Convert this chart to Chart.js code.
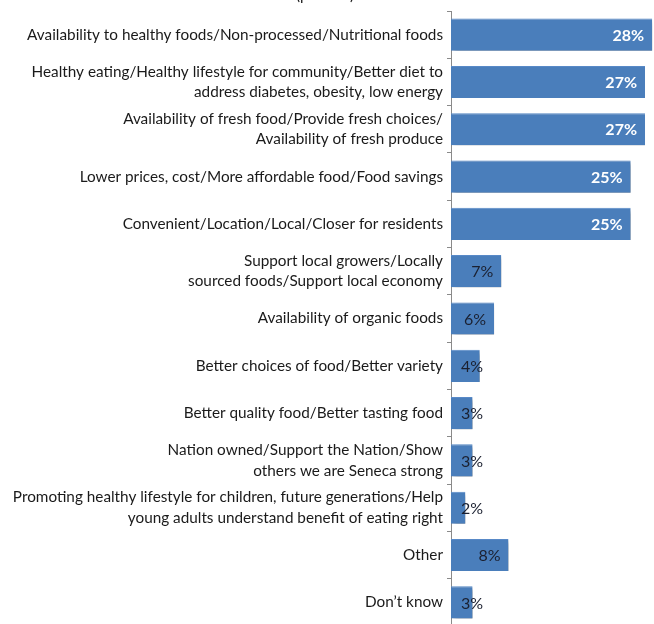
<!DOCTYPE html>
<html>
<head>
<meta charset="utf-8">
<script src="https://cdn.jsdelivr.net/npm/chart.js@4.4.1/dist/chart.umd.min.js"></script>
<style>
  html, body { margin: 0; padding: 0; background: #ffffff; overflow: hidden; }
  #wrap { position: relative; width: 654px; height: 626px; }
</style>
</head>
<body>
<div id="wrap"><canvas id="chart"></canvas></div>
<script>
// Reasons given for wanting the store (share of respondents, %)
const categories = [
  "Availability to healthy foods/Non-processed/Nutritional foods",
  ["Healthy eating/Healthy lifestyle for community/Better diet to", "address diabetes, obesity, low energy"],
  ["Availability of fresh food/Provide fresh choices/", "Availability of fresh produce"],
  "Lower prices, cost/More affordable food/Food savings",
  "Convenient/Location/Local/Closer for residents",
  ["Support local growers/Locally", "sourced foods/Support local economy"],
  "Availability of organic foods",
  "Better choices of food/Better variety",
  "Better quality food/Better tasting food",
  ["Nation owned/Support the Nation/Show", "others we are Seneca strong"],
  ["Promoting healthy lifestyle for children, future generations/Help", "young adults understand benefit of eating right"],
  "Other",
  "Don\u2019t know"
];
const values = [28, 27, 27, 25, 25, 7, 6, 4, 3, 3, 2, 8, 3];
const subtitle = "(percent)";

const FONT = "Lato, 'Open Sans', sans-serif";
const BAR_BLUE = "#4a7ebb";

// soft drop shadow under the bars
const barShadow = {
  id: "barShadow",
  beforeDatasetsDraw(chart) {
    const ctx = chart.ctx;
    ctx.save();
    ctx.shadowColor = "rgba(0,0,0,0.38)";
    ctx.shadowBlur = 4;
    ctx.shadowOffsetX = 3;
    ctx.shadowOffsetY = 3;
  },
  afterDatasetsDraw(chart) {
    chart.ctx.restore();
  }
};

// percentage labels: white bold inside long bars, dark inside/over short ones
const valueLabels = {
  id: "valueLabels",
  afterDatasetsDraw(chart) {
    const ctx = chart.ctx;
    const meta = chart.getDatasetMeta(0);
    const base = chart.scales.x.getPixelForValue(0);
    ctx.save();
    ctx.textBaseline = "middle";
    ctx.textAlign = "right";
    meta.data.forEach((bar, i) => {
      const v = values[i];
      const txt = v + "%";
      const big = v >= 20;
      ctx.font = (big ? "bold " : "") + "16px " + FONT;
      ctx.fillStyle = big ? "#ffffff" : "#1b2030";
      const right = Math.max(bar.x - 8, base + 32);
      ctx.fillText(txt, right, bar.y + 1);
    });
    ctx.restore();
  }
};

// header line sitting above the plot
const headerText = {
  id: "headerText",
  afterDraw(chart) {
    const ctx = chart.ctx;
    ctx.save();
    ctx.font = "15px " + FONT;
    ctx.fillStyle = "#1a1a1a";
    ctx.textAlign = "center";
    ctx.textBaseline = "alphabetic";
    ctx.fillText(subtitle, 325, 0);
    ctx.restore();
  }
};

new Chart(document.getElementById("chart"), {
  type: "bar",
  data: {
    labels: categories,
    datasets: [{
      data: values,
      backgroundColor: BAR_BLUE,
      borderColor: "#5a8ccb",
      borderWidth: { top: 1, left: 0, right: 0, bottom: 0 },
      borderSkipped: false,
      barPercentage: 0.68,
      categoryPercentage: 1.0
    }]
  },
  options: {
    indexAxis: "y",
    responsive: true,
    maintainAspectRatio: false,
    animation: false,
    layout: { padding: { top: 11, right: 0, bottom: 0, left: 0 } },
    plugins: {
      legend: { display: false },
      tooltip: { enabled: false },
      title: { display: false }
    },
    scales: {
      x: {
        display: false,
        min: 0,
        max: 28.25
      },
      y: {
        afterFit(scale) {
          scale.width = 451;
          scale.paddingTop = 0;
          scale.paddingBottom = 0;
        },
        grid: {
          drawOnChartArea: false,
          drawTicks: true,
          tickLength: 4,
          color: "#8a8a8a",
          offset: true
        },
        border: { display: true, color: "#8a8a8a", width: 1 },
        ticks: {
          padding: 4,
          color: "#1a1a1a",
          autoSkip: false,
          font: { family: FONT, size: 15.3, lineHeight: 1.34 }
        }
      }
    }
  },
  plugins: [barShadow, valueLabels, headerText]
});
</script>
</body>
</html>
